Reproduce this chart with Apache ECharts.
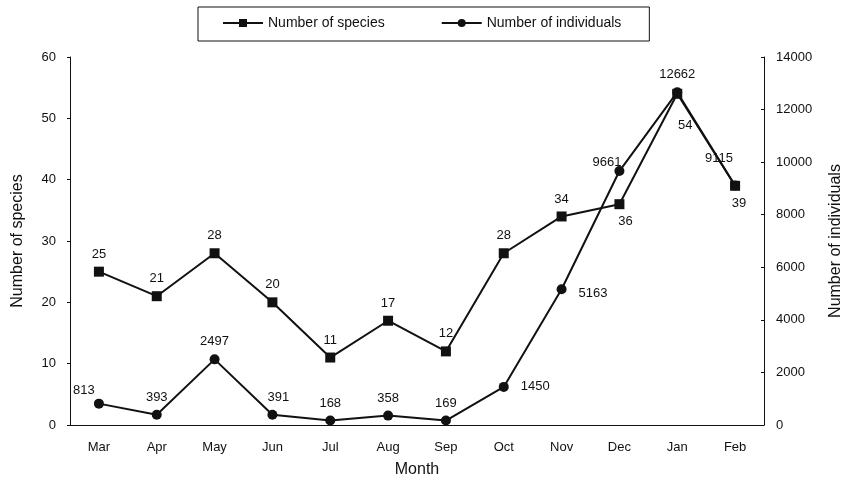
<!DOCTYPE html>
<html>
<head>
<meta charset="utf-8">
<script src="https://cdn.jsdelivr.net/npm/echarts@6/dist/echarts.min.js"></script>
<style>
  html, body { margin: 0; padding: 0; background: #fff; }
  #chart { width: 848px; height: 483px; }
</style>
</head>
<body>
<div id="chart"></div>
<script>
const months = ['Mar', 'Apr', 'May', 'Jun', 'Jul', 'Aug', 'Sep', 'Oct', 'Nov', 'Dec', 'Jan', 'Feb']
const speciesCount = [25, 21, 28, 20, 11, 17, 12, 28, 34, 36, 54, 39]
const individualsCount = [813, 393, 2497, 391, 168, 358, 169, 1450, 5163, 9661, 12662, 9115]
// where each point label sits (same order as months)
const speciesLabelPos = ['top', 'top', 'top', 'top', 'top', 'top', 'top', 'top', 'top', 'bottom', 'bottom', 'bottom']
const individualsLabelPos = ['top', 'top', 'top', 'top', 'top', 'top', 'top', 'right', 'right', 'left', 'top', 'top']
// small nudges so labels do not sit on the lines
const speciesLabelOffset = { 9: [6, 0], 10: [8, 14], 11: [4, 0] }
const individualsLabelOffset = { 0: [-15, 4], 3: [6, 0], 7: [6, 0], 8: [6, 4], 9: [13, -9], 11: [-16, -9] }

const font = 'Liberation Sans, Arial, sans-serif'
const ink = '#111'

function withLabels(values, positions, offsets) {
    return values.map((v, i) => ({
        value: v,
        label: { position: positions[i], offset: offsets[i] || [0, 0] }
    }))
}

const chart = echarts.init(document.getElementById('chart'))
const options = {
    animation: false,
    textStyle: { fontFamily: font, color: ink },
    legend: {
        top: 7,
        left: 198,
        itemGap: 56,
        padding: [9, 28, 11, 24],
        borderColor: ink,
        borderWidth: 1,
        itemWidth: 40,
        itemHeight: 10,
        textStyle: { fontSize: 14, color: ink, fontFamily: font },
        data: ['Number of species', 'Number of individuals']
    },
    grid: { left: 70, right: 84, top: 57, bottom: 58, outerBoundsMode: 'none', containLabel: false },
    xAxis: {
        type: 'category',
        data: months,
        name: 'Month',
        nameLocation: 'middle',
        nameGap: 37,
        nameTextStyle: { fontSize: 16, color: ink },
        axisLine: { lineStyle: { color: ink } },
        axisTick: { inside: true, length: 4, lineStyle: { color: ink } },
        axisLabel: { fontSize: 13, color: ink, margin: 16 }
    },
    yAxis: [
        {
            type: 'value',
            min: 0, max: 60, interval: 10,
            name: 'Number of species',
            nameLocation: 'middle',
            nameRotate: 90,
            nameGap: 44,
            nameTextStyle: { fontSize: 16, color: ink },
            axisLine: { show: true, lineStyle: { color: ink } },
            axisTick: { show: true, length: 3, lineStyle: { color: ink } },
            axisLabel: { fontSize: 13, color: ink, margin: 14 },
            splitLine: { show: false }
        },
        {
            type: 'value',
            min: 0, max: 14000, interval: 2000,
            name: 'Number of individuals',
            nameLocation: 'middle',
            nameRotate: 90,
            nameGap: 64,
            nameTextStyle: { fontSize: 16, color: ink },
            axisLine: { show: true, lineStyle: { color: ink } },
            axisTick: { show: true, inside: true, length: 3, lineStyle: { color: ink } },
            axisLabel: { fontSize: 13, color: ink, margin: 12, formatter: v => String(v) },
            splitLine: { show: false }
        }
    ],
    series: [
        {
            name: 'Number of species',
            type: 'line',
            yAxisIndex: 0,
            symbol: 'rect',
            symbolSize: 10,
            lineStyle: { color: ink, width: 2 },
            itemStyle: { color: ink },
            label: { show: true, fontSize: 13, color: ink, distance: 6 },
            data: withLabels(speciesCount, speciesLabelPos, speciesLabelOffset)
        },
        {
            name: 'Number of individuals',
            type: 'line',
            yAxisIndex: 1,
            symbol: 'circle',
            symbolSize: 10,
            lineStyle: { color: ink, width: 2 },
            itemStyle: { color: ink },
            label: { show: true, fontSize: 13, color: ink, distance: 6 },
            data: withLabels(individualsCount, individualsLabelPos, individualsLabelOffset)
        }
    ]
}
chart.setOption(options)
</script>
</body>
</html>
